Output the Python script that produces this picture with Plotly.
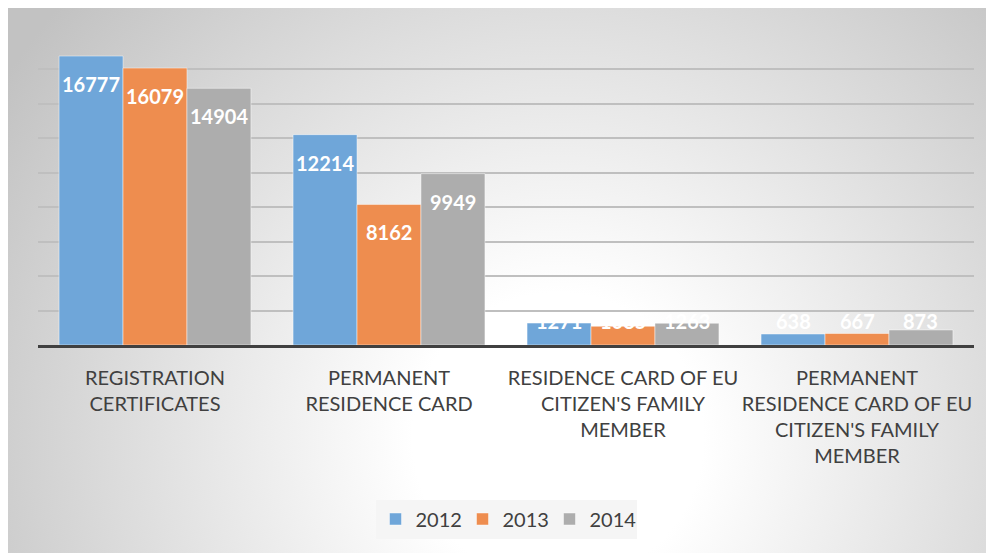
import base64
import plotly.graph_objects as go

categories = [
    "REGISTRATION<br>CERTIFICATES",
    "PERMANENT<br>RESIDENCE CARD",
    "RESIDENCE CARD OF EU<br>CITIZEN'S FAMILY<br>MEMBER",
    "PERMANENT<br>RESIDENCE CARD OF EU<br>CITIZEN'S FAMILY<br>MEMBER",
]
years = ["2012", "2013", "2014"]
values_2012 = [16777, 12214, 1271, 638]
values_2013 = [16079, 8162, 1085, 667]
values_2014 = [14904, 9949, 1263, 873]
series = [values_2012, values_2013, values_2014]
colors = ["#6fa6d9", "#ee8d4f", "#adadad"]

W, H = 986, 545
ML, MR, MT, MB = 30, 20, 27, 208
PW, PH = W - ML - MR, H - MT - MB
BARGAP = 0.18
bar_px = PW / len(categories) * (1 - BARGAP) / len(years)

fig = go.Figure()
for yr, vals, col in zip(years, series, colors):
    fig.add_trace(go.Bar(
        x=categories, y=vals, name=yr,
        marker=dict(color=col, line=dict(color="rgba(255,255,255,0.45)", width=1)),
    ))

annotations = []
for i, vals in enumerate(series):
    for c, v in zip(categories, vals):
        inside = v > 3000
        annotations.append(dict(
            x=c, y=v if inside else 0, xref="x", yref="y",
            text=f"<b>{v}</b>", showarrow=False,
            xshift=(i - 1) * bar_px, yshift=-28 if inside else 24,
            yanchor="middle",
            font=dict(family="Lato, Open Sans, sans-serif", size=20, color="white"),
        ))

svg = (
    f'<svg xmlns="http://www.w3.org/2000/svg" width="{W}" height="{H}" '
    f'viewBox="0 0 {W} {H}" preserveAspectRatio="none"><defs>'
    '<radialGradient id="g" cx="550" cy="430" r="660" gradientUnits="userSpaceOnUse">'
    '<stop offset="0" stop-color="#ffffff"/><stop offset="0.22" stop-color="#ffffff"/>'
    '<stop offset="1" stop-color="#c2c2c2"/></radialGradient></defs>'
    f'<rect width="{W}" height="{H}" fill="url(#g)"/></svg>'
)
src = "data:image/svg+xml;base64," + base64.b64encode(svg.encode()).decode()

fig.update_layout(
    width=W, height=H,
    margin=dict(l=ML, r=MR, t=MT, b=MB, pad=0),
    barmode="group", bargap=BARGAP, bargroupgap=0,
    paper_bgcolor="white", plot_bgcolor="rgba(0,0,0,0)",
    font=dict(family="Lato, Open Sans, sans-serif", color="#404040"),
    images=[dict(
        source=src, xref="paper", yref="paper",
        x=-ML / PW, y=1 + MT / PH,
        sizex=W / PW, sizey=H / PH,
        xanchor="left", yanchor="top", sizing="stretch", layer="below",
    )],
    xaxis=dict(
        showline=True, linecolor="#404040", linewidth=3,
        ticks="outside", ticklen=13, tickcolor="rgba(0,0,0,0)",
        tickfont=dict(size=20, color="#404040"), tickangle=0,
        showgrid=False,
    ),
    yaxis=dict(
        range=[0, 18000], dtick=2000, showticklabels=False,
        showgrid=True, gridcolor="#bfbfbf", gridwidth=1.5,
        zeroline=False, fixedrange=True,
    ),
    legend=dict(
        orientation="h", x=0.5, xanchor="center", y=-174 / PH,
        yanchor="middle", bgcolor="rgba(244,244,244,0.9)",
        font=dict(size=20, color="#404040"), entrywidth=42, itemwidth=30,
    ),
    annotations=annotations,
    showlegend=True,
)

fig.write_html("out.html")
